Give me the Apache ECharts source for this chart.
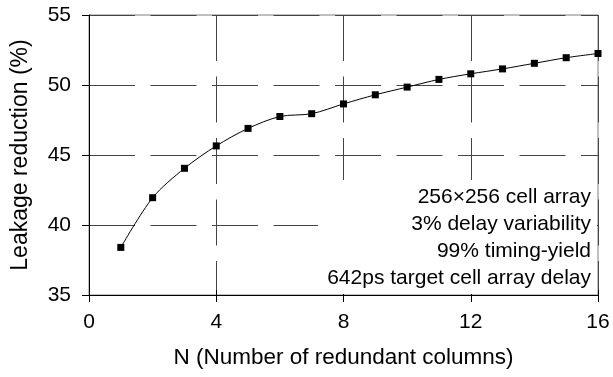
<!DOCTYPE html>
<html>
<head>
<meta charset="utf-8">
<script src="https://cdn.jsdelivr.net/npm/echarts@6/dist/echarts.min.js"></script>
<style>
  html, body { margin: 0; padding: 0; background: #fff; }
  #chart { width: 613px; height: 377px; }
</style>
</head>
<body>
<div id="chart"></div>
<script>
// data
var nValues = [1, 2, 3, 4, 5, 6, 7, 8, 9, 10, 11, 12, 13, 14, 15, 16];
var leakage = [38.4, 41.95, 44.05, 45.65, 46.9, 47.75, 47.95, 48.65, 49.3, 49.85, 50.4, 50.8, 51.15, 51.55, 51.95, 52.25];
var noteLines = ['256×256 cell array', '3% delay variability', '99% timing-yield', '642ps target cell array delay'];

var myChart = echarts.init(document.getElementById('chart'));
var font = 'Liberation Sans, Arial, sans-serif';
var dash = [46, 15.5];

var points = nValues.map(function (n, i) { return [n, leakage[i]]; });

// white box behind the note, then one right-aligned text per line
var graphics = [{
    type: 'rect',
    shape: { x: 318, y: 180, width: 279, height: 114 },
    style: { fill: '#fff' },
    z: 5
}];
noteLines.forEach(function (t, i) {
    graphics.push({
        type: 'text',
        x: 591,
        y: 197 + i * 27,
        z: 6,
        style: {
            text: t,
            align: 'right',
            verticalAlign: 'middle',
            fontSize: 21,
            fill: '#000',
            fontFamily: font
        }
    });
});

option = {
    animation: false,
    textStyle: { fontFamily: font },
    grid: {
        left: 89,
        top: 15,
        width: 509,
        height: 280,
        show: true,
        borderColor: '#808080',
        borderWidth: 1
    },
    xAxis: [{
        type: 'value',
        min: 0,
        max: 16,
        interval: 4,
        name: 'N (Number of redundant columns)',
        nameLocation: 'middle',
        nameGap: 51,
        nameTextStyle: { fontSize: 22.5, color: '#000', fontFamily: font },
        axisLine: { show: true, onZero: false, lineStyle: { color: '#000', width: 1 } },
        axisTick: { show: true, length: 7, lineStyle: { color: '#000' } },
        axisLabel: { fontSize: 21, color: '#000', margin: 17, fontFamily: font },
        splitLine: { show: true, lineStyle: { color: '#444', type: dash, width: 1 } }
    }, {
        // inner half of the crossing ticks
        type: 'value',
        min: 0,
        max: 16,
        interval: 4,
        position: 'bottom',
        axisLine: { show: false },
        axisTick: { show: true, inside: true, length: 5, lineStyle: { color: '#000' } },
        axisLabel: { show: false },
        splitLine: { show: false }
    }],
    yAxis: {
        type: 'value',
        min: 35,
        max: 55,
        interval: 5,
        name: 'Leakage reduction (%)',
        nameLocation: 'middle',
        nameGap: 57,
        nameTextStyle: { fontSize: 23, color: '#000', fontFamily: font },
        axisLine: { show: true, lineStyle: { color: '#000', width: 1 } },
        axisTick: { show: true, length: 7, lineStyle: { color: '#000' } },
        axisLabel: { fontSize: 21, color: '#000', margin: 18, fontFamily: font },
        splitLine: { show: true, lineStyle: { color: '#444', type: dash, width: 1 } }
    },
    graphic: graphics,
    series: [{
        type: 'line',
        data: points,
        smooth: 0.3,
        symbol: 'rect',
        symbolSize: 7,
        itemStyle: { color: '#000' },
        lineStyle: { color: '#000', width: 1 },
        z: 10
    }]
};
myChart.setOption(option);
</script>
</body>
</html>
